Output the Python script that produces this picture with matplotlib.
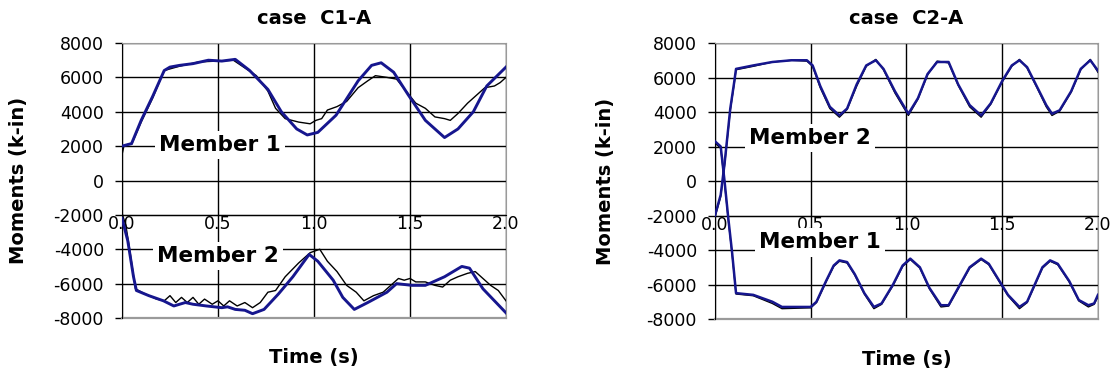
import numpy as np
import matplotlib
matplotlib.use('Agg')
import matplotlib.pyplot as plt

plt.rcParams['font.family'] = ['DejaVu Sans']
plt.rcParams['axes.unicode_minus'] = False

# ---- data ----
yticks = [-8000, -6000, -4000, -2000, 0, 2000, 4000, 6000, 8000]
ytick_labels = ['-8000', '-6000', '-4000', '-2000', '0', '2000', '4000', '6000', '8000']
xticks = [0.0, 0.5, 1.0, 1.5, 2.0]
xtick_labels = ['0.0', '0.5', '1.0', '1.5', '2.0']

# case C1-A, member 1 (upper curves)
c1_m1_blue_t = [0.00, 0.05, 0.10, 0.16, 0.22, 0.25, 0.30, 0.37, 0.45, 0.52, 0.59, 0.665, 0.76, 0.83,
                0.91, 0.965, 1.02, 1.115, 1.23, 1.30, 1.35, 1.415, 1.49, 1.58, 1.68, 1.75, 1.83, 1.90, 2.00]
c1_m1_blue_v = [2000, 2150, 3500, 4900, 6400, 6600, 6700, 6800, 7000, 6950, 7050, 6400, 5300, 4000,
                3000, 2650, 2800, 3800, 5800, 6700, 6850, 6300, 5000, 3500, 2500, 3000, 4000, 5500, 6600]
c1_m1_black_t = [0.00, 0.01, 0.03, 0.05, 0.10, 0.16, 0.22, 0.30, 0.40, 0.50, 0.58, 0.62, 0.70, 0.76, 0.80,
                 0.85, 0.92, 0.98, 1.01, 1.04, 1.07, 1.12, 1.17, 1.23, 1.28, 1.32, 1.38, 1.43, 1.48, 1.53,
                 1.58, 1.63, 1.68, 1.71, 1.75, 1.80, 1.85, 1.89, 1.94, 1.97, 2.00]
c1_m1_black_v = [1500, 2000, 2100, 2100, 3400, 4800, 6400, 6650, 6900, 6950, 7000, 6700, 6100, 5200, 4200,
                 3600, 3400, 3300, 3500, 3600, 4100, 4300, 4600, 5400, 5800, 6100, 6000, 5900, 5200, 4500,
                 4200, 3700, 3600, 3500, 3900, 4500, 5000, 5400, 5500, 5700, 6000]

# case C1-A, member 2 (lower curves)
c1_m2_blue_t = [0.00, 0.03, 0.06, 0.075, 0.14, 0.216, 0.27, 0.33, 0.37, 0.44, 0.52, 0.55, 0.59, 0.64, 0.68,
                0.74, 0.815, 0.89, 0.975, 1.02, 1.10, 1.15, 1.21, 1.28, 1.38, 1.43, 1.51, 1.58, 1.68, 1.77,
                1.81, 1.88, 2.00]
c1_m2_blue_v = [-2200, -3500, -5600, -6400, -6700, -7000, -7300, -7100, -7200, -7300, -7400, -7350, -7500,
                -7550, -7750, -7500, -6600, -5600, -4300, -4700, -5800, -6800, -7500, -7100, -6500, -6000,
                -6100, -6100, -5600, -5000, -5100, -6300, -7700]
c1_m2_black_t = [0.00, 0.02, 0.04, 0.07, 0.12, 0.18, 0.22, 0.25, 0.28, 0.31, 0.34, 0.37, 0.40, 0.43, 0.47,
                 0.50, 0.53, 0.56, 0.60, 0.64, 0.68, 0.72, 0.76, 0.80, 0.85, 0.92, 0.98, 1.03, 1.07, 1.12,
                 1.17, 1.22, 1.26, 1.31, 1.36, 1.40, 1.44, 1.47, 1.50, 1.53, 1.58, 1.63, 1.67, 1.71, 1.75,
                 1.80, 1.84, 1.87, 1.92, 1.96, 2.00]
c1_m2_black_v = [-1900, -2600, -4000, -6300, -6600, -6900, -7000, -6700, -7100, -6800, -7100, -6800, -7200,
                 -6900, -7200, -7000, -7300, -7000, -7300, -7100, -7400, -7100, -6500, -6400, -5600, -4800,
                 -4200, -4000, -4700, -5300, -6100, -6500, -7000, -6700, -6500, -6100, -5700, -5800, -5700,
                 -5900, -5900, -6100, -6200, -5800, -5600, -5400, -5300, -5600, -6100, -6400, -7000]

# case C2-A, member 2 (upper curves)
c2_m2_t = [0.00, 0.03, 0.05, 0.08, 0.10, 0.11, 0.20, 0.30, 0.40, 0.48, 0.51, 0.55, 0.60, 0.65, 0.69, 0.74,
           0.79, 0.84, 0.88, 0.94, 1.01, 1.06, 1.11, 1.16, 1.22, 1.27, 1.33, 1.39, 1.44, 1.50, 1.55, 1.59,
           1.63, 1.68, 1.73, 1.76, 1.80, 1.86, 1.91, 1.96, 2.00]
c2_m2_blue_v = [-2000, -800, 1000, 4200, 5700, 6500, 6700, 6900, 7000, 7000, 6700, 5500, 4300, 3800, 4200,
                5600, 6700, 7000, 6500, 5200, 3900, 4800, 6200, 6900, 6900, 5600, 4400, 3800, 4500, 5800,
                6700, 7000, 6600, 5500, 4400, 3900, 4100, 5200, 6500, 7000, 6400]
c2_m2_black_v = [-2100, -900, 900, 4100, 5600, 6450, 6650, 6900, 7000, 6950, 6650, 5400, 4200, 3700, 4150,
                 5500, 6650, 7050, 6450, 5100, 3800, 4750, 6150, 6950, 6850, 5550, 4300, 3700, 4450, 5750,
                 6650, 7050, 6550, 5450, 4300, 3800, 4050, 5150, 6450, 7050, 6300]

# case C2-A, member 1 (lower curves)
c2_m1_t = [0.00, 0.03, 0.05, 0.07, 0.09, 0.11, 0.20, 0.30, 0.35, 0.50, 0.53, 0.58, 0.62, 0.65, 0.69, 0.73,
           0.78, 0.83, 0.87, 0.93, 0.98, 1.02, 1.07, 1.12, 1.18, 1.22, 1.27, 1.33, 1.39, 1.43, 1.48, 1.53,
           1.59, 1.63, 1.67, 1.71, 1.75, 1.79, 1.85, 1.90, 1.95, 1.98, 2.00]
c2_m1_blue_v = [2300, 2000, 0, -2200, -4200, -6500, -6600, -7000, -7300, -7300, -7000, -5800, -4900, -4600,
                -4700, -5400, -6500, -7300, -7100, -6000, -4900, -4500, -5000, -6200, -7200, -7200, -6200,
                -5000, -4500, -4800, -5700, -6600, -7300, -7000, -6000, -5000, -4600, -4800, -5800, -6900,
                -7200, -7100, -6600]
c2_m1_black_v = [2200, 1900, -100, -2300, -4300, -6550, -6650, -7100, -7400, -7350, -7050, -5850, -4950,
                 -4650, -4750, -5450, -6550, -7400, -7150, -6050, -4950, -4550, -5050, -6250, -7300, -7250,
                 -6250, -5050, -4550, -4850, -5750, -6650, -7400, -7050, -6050, -5050, -4650, -4850, -5850,
                 -6950, -7300, -7150, -6700]

navy = '#16168e'
frame_gray = '#9a9a9a'


def draw_panel(ax, title, series, labels, ylab_x):
    for t, v, c, lw in series:
        ax.plot(t, v, color=c, lw=lw, zorder=3)
    ax.set_xlim(0, 2.0)
    ax.set_ylim(-8000, 8000)
    ax.set_yticks(yticks)
    ax.set_yticklabels(ytick_labels)
    ax.set_xticks(xticks)
    ax.set_xticklabels(xtick_labels)
    ax.tick_params(axis='x', direction='in', length=0, pad=0, labelsize=12.5)
    ax.tick_params(axis='y', direction='out', length=5, width=1, pad=8, labelsize=12.5)
    for lbl in ax.get_xticklabels():
        lbl.set_va('center')
    ax.set_axisbelow(True)
    ax.grid(True, color='black', lw=1.0)
    ax.spines['bottom'].set_position(('data', -2000))
    ax.spines['bottom'].set_color('black')
    ax.spines['left'].set_color('black')
    ax.spines['top'].set_color(frame_gray)
    ax.spines['right'].set_color(frame_gray)
    ax.axhline(-8000, color=frame_gray, lw=1.6, zorder=2.5, clip_on=False)
    ax.set_title(title, fontsize=14, fontweight='bold', y=1.04)
    ax.set_ylabel('Moments (k-in)', fontsize=14, fontweight='bold')
    ax.yaxis.set_label_coords(ylab_x, 0.5)
    ax.set_xlabel('Time (s)', fontsize=14, fontweight='bold', va='center')
    ax.xaxis.set_label_coords(0.5, -0.145)
    for txt, x, y in labels:
        ax.text(x, y, txt, fontsize=15.5, fontweight='bold', ha='center', va='center', zorder=4,
                bbox=dict(facecolor='white', edgecolor='none', pad=3))


fig = plt.figure(figsize=(11.14, 3.77), dpi=100)
ax1 = fig.add_axes([0.1095, 0.1565, 0.3447, 0.7294])
ax2 = fig.add_axes([0.6418, 0.1538, 0.3438, 0.7321])

draw_panel(ax1, 'case  C1-A',
           [(c1_m1_black_t, c1_m1_black_v, 'black', 1.0),
            (c1_m1_blue_t, c1_m1_blue_v, navy, 2.1),
            (c1_m2_black_t, c1_m2_black_v, 'black', 1.0),
            (c1_m2_blue_t, c1_m2_blue_v, navy, 2.1)],
           [('Member 1', 0.51, 2050), ('Member 2', 0.50, -4400)],
           -0.245)

draw_panel(ax2, 'case  C2-A',
           [(c2_m2_t, c2_m2_black_v, 'black', 1.0),
            (c2_m2_t, c2_m2_blue_v, navy, 1.8),
            (c2_m1_t, c2_m1_black_v, 'black', 1.0),
            (c2_m1_t, c2_m1_blue_v, navy, 1.8)],
           [('Member 2', 0.495, 2500), ('Member 1', 0.55, -3560)],
           -0.26)

fig.savefig('out.png', dpi=100)
